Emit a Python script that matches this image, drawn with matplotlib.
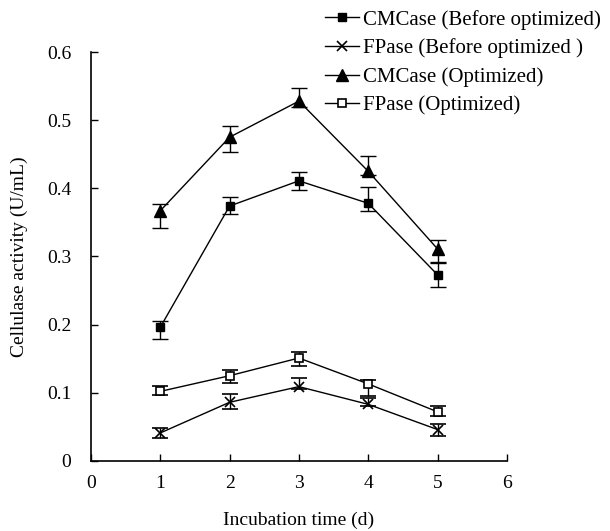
import matplotlib
matplotlib.use("Agg")
import matplotlib.pyplot as plt
from matplotlib.lines import Line2D
import numpy as np

plt.rcParams['font.family'] = ['Liberation Serif', 'DejaVu Serif']

days = [1, 2, 3, 4, 5]

# CMCase (Before optimized)
cm_before = [0.196, 0.374, 0.411, 0.378, 0.273]
cm_before_lo = [0.179, 0.362, 0.397, 0.367, 0.255]
cm_before_hi = [0.205, 0.387, 0.424, 0.402, 0.290]

# FPase (Before optimized )
fp_before = [0.041, 0.086, 0.109, 0.083, 0.046]
fp_before_lo = [0.033, 0.076, 0.105, 0.080, 0.037]
fp_before_hi = [0.048, 0.098, 0.121, 0.093, 0.054]

# CMCase (Optimized)
cm_opt = [0.367, 0.475, 0.528, 0.425, 0.311]
cm_opt_lo = [0.342, 0.453, 0.519, 0.419, 0.292]
cm_opt_hi = [0.377, 0.491, 0.547, 0.447, 0.324]

# FPase (Optimized)
fp_opt = [0.102, 0.125, 0.151, 0.113, 0.072]
fp_opt_lo = [0.097, 0.114, 0.140, 0.095, 0.066]
fp_opt_hi = [0.110, 0.133, 0.160, 0.119, 0.080]

series = [
    ("CMCase (Before optimized)", cm_before, cm_before_lo, cm_before_hi, dict(marker='s', ms=6, mfc='black')),
    ("FPase (Before optimized )", fp_before, fp_before_lo, fp_before_hi, dict(marker='x', ms=7, mew=1.2)),
    ("CMCase (Optimized)", cm_opt, cm_opt_lo, cm_opt_hi, dict(marker='^', ms=8, mfc='black')),
    ("FPase (Optimized)", fp_opt, fp_opt_lo, fp_opt_hi, dict(marker='s', ms=5.5, mfc='white', mew=1.2)),
]

fig = plt.figure(figsize=(6.1, 5.31), dpi=100)
ax = fig.add_axes([0.149, 0.132, 0.682, 0.770])

handles = []
for name, vals, lo, hi, style in series:
    v = np.array(vals)
    yerr = [v - np.array(lo), np.array(hi) - v]
    ax.errorbar(days, v, yerr=yerr, color='black', lw=1.0, elinewidth=1.0,
                capsize=6, capthick=1.0, mec='black', **style)
    # legend shows line + marker only
    handles.append(Line2D([], [], color='black', lw=1.0, mec='black', label=name, **style))

ax.set_xlim(0, 6)
ax.set_ylim(0, 0.6)
ax.set_xticks(range(0, 7))
ax.set_yticks(np.arange(0, 0.61, 0.1))
ax.set_yticklabels(["0", "0.1", "0.2", "0.3", "0.4", "0.5", "0.6"])
ax.spines['top'].set_visible(False)
ax.spines['right'].set_visible(False)
ax.spines['left'].set_linewidth(1.2)
ax.spines['bottom'].set_linewidth(1.2)
ax.tick_params(direction='in', length=5, width=1.0, labelsize=14)
ax.tick_params(axis='y', pad=14)
ax.tick_params(axis='x', pad=10)

ax.set_xlabel("Incubation time (d)", fontsize=14, labelpad=14)
ax.set_ylabel("Cellulase activity (U/mL)", fontsize=14, labelpad=14)

leg = fig.legend(handles=handles, loc='upper right', bbox_to_anchor=(1.005, 1.005),
                 frameon=False, fontsize=15, handlelength=1.6, handletextpad=0.2,
                 labelspacing=0.42, borderaxespad=0.2)

fig.savefig("out.png", dpi=100)
